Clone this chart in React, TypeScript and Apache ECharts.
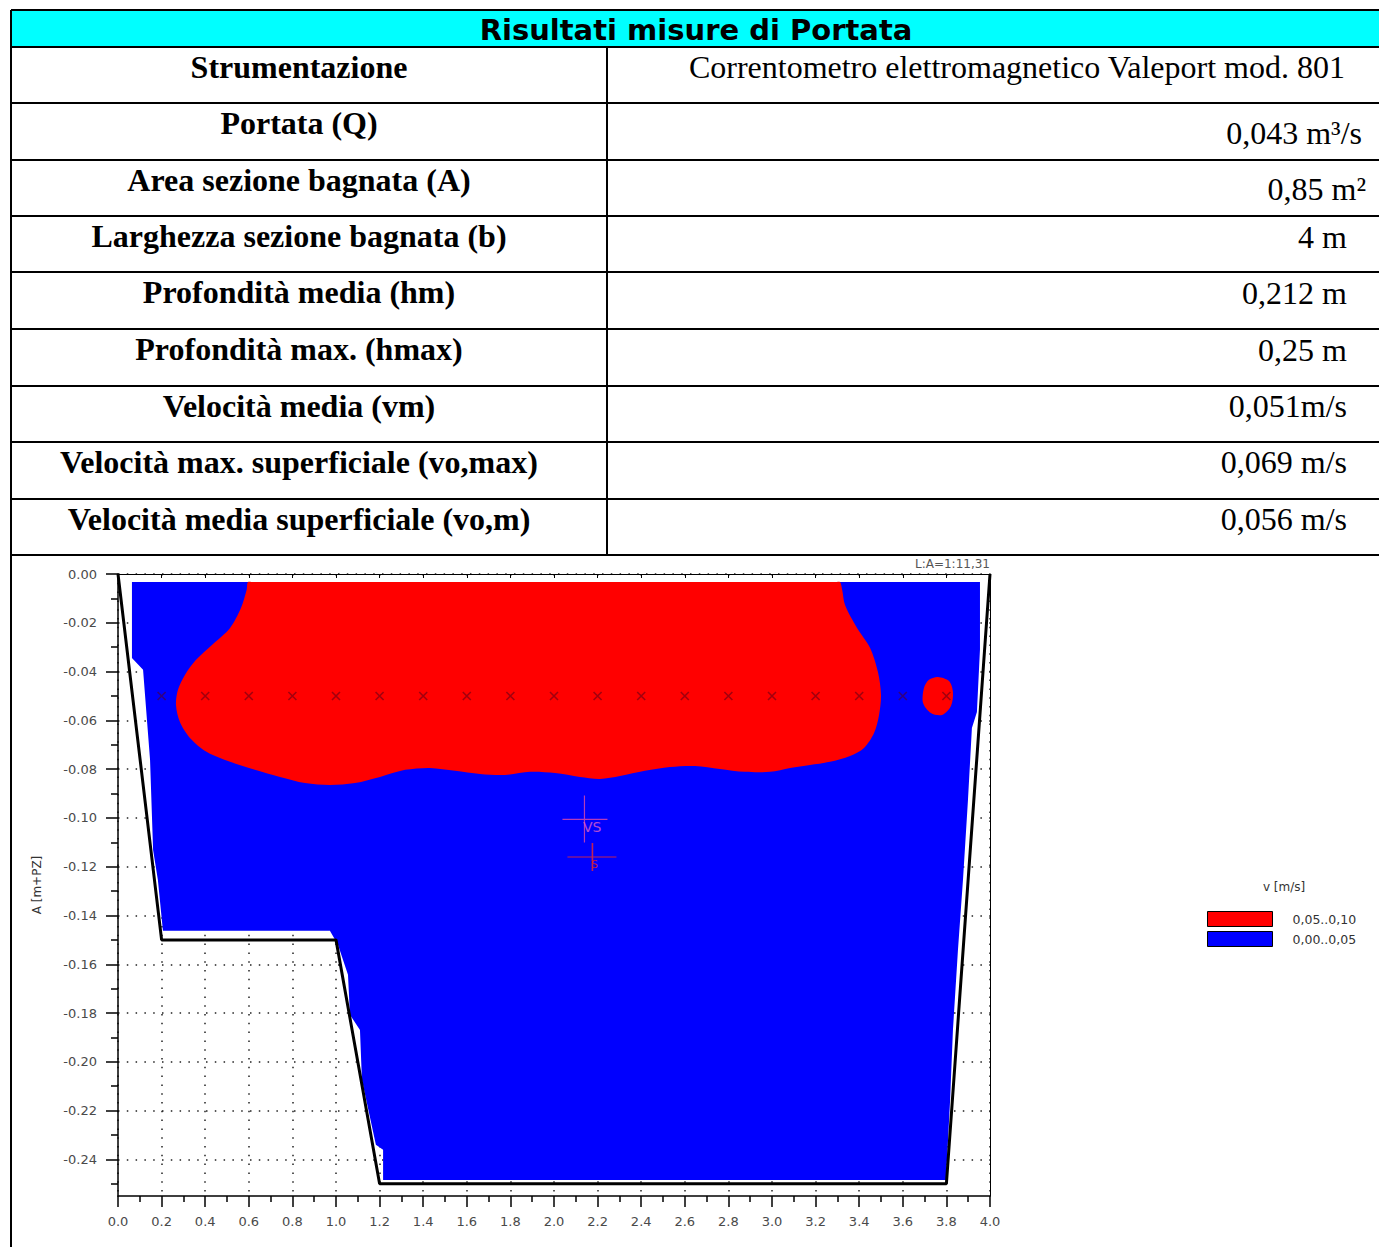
import React, { useEffect, useRef } from "react";
import * as echarts from "echarts";

// ---- Summary table ----
const TITLE = "Risultati misure di Portata";
const parameterNames = [
  "Strumentazione",
  "Portata (Q)",
  "Area sezione bagnata (A)",
  "Larghezza sezione bagnata (b)",
  "Profondità media (hm)",
  "Profondità max. (hmax)",
  "Velocità media (vm)",
  "Velocità max. superficiale (vo,max)",
  "Velocità media superficiale (vo,m)",
];
const parameterValues = [
  "Correntometro elettromagnetico Valeport mod. 801",
  "0,043 m³/s",
  "0,85 m²",
  "4 m",
  "0,212 m",
  "0,25 m",
  "0,051m/s",
  "0,069 m/s",
  "0,056 m/s",
];

// ---- Cross-section (distance [m], elevation [m+PZ]) ----
const bedProfile: [number, number][] = [
  [0.0, 0.0], [0.2, -0.15], [1.0, -0.15], [1.2, -0.25], [3.8, -0.25], [4.0, 0.0],
];

// wetted area, class 0,00..0,05 m/s
const slowZone: [number, number][] = [
  [0.064, -0.0033], [3.954, -0.0033], [3.954, -0.031], [3.94, -0.0566], [3.917, -0.0631],
  [3.899, -0.0926], [3.876, -0.1254], [3.853, -0.1541], [3.83, -0.1869], [3.817, -0.2156],
  [3.798, -0.2484], [1.216, -0.2484], [1.216, -0.236], [1.183, -0.234], [1.119, -0.2074],
  [1.11, -0.1869], [1.064, -0.1807], [1.055, -0.1643], [1.009, -0.152], [0.972, -0.1463],
  [0.206, -0.1463], [0.183, -0.1254], [0.161, -0.1131], [0.147, -0.0762], [0.115, -0.0393],
  [0.064, -0.0344],
];

// class 0,05..0,10 m/s: main core under the surface
const fastCore: [number, number][] = [
  [0.596, -0.0033], [0.62, -0.0033], [1.0, -0.0033], [1.5, -0.0033], [2.0, -0.0033],
  [2.5, -0.0033], [3.0, -0.0033], [3.29, -0.0033], [3.312, -0.0033],
  [3.322, -0.0066], [3.335, -0.0127], [3.39, -0.0221], [3.45, -0.0303],
  [3.486, -0.0402], [3.5, -0.0496], [3.491, -0.0578], [3.468, -0.0652], [3.422, -0.0713],
  [3.358, -0.0746], [3.266, -0.077], [3.174, -0.0783], [3.083, -0.0795], [2.991, -0.0811],
  [2.876, -0.0811], [2.761, -0.0799], [2.647, -0.0787], [2.532, -0.0791], [2.417, -0.0807],
  [2.303, -0.0828], [2.211, -0.084], [2.119, -0.0832], [2.005, -0.0816], [1.89, -0.0811],
  [1.775, -0.0824], [1.661, -0.082], [1.546, -0.0807], [1.431, -0.0795], [1.317, -0.0803],
  [1.202, -0.0832], [1.087, -0.0857], [0.972, -0.0865], [0.858, -0.0857], [0.743, -0.0832],
  [0.628, -0.0803], [0.514, -0.077], [0.408, -0.073], [0.33, -0.0672], [0.284, -0.0607],
  [0.266, -0.0537], [0.275, -0.0475], [0.307, -0.0414], [0.358, -0.0352], [0.431, -0.0291],
  [0.514, -0.0221], [0.564, -0.0139], [0.59, -0.0066],
];

// class 0,05..0,10 m/s: isolated spot near the right bank
const fastSpot: [number, number][] = [
  [3.761, -0.0422], [3.812, -0.0439], [3.83, -0.0484], [3.821, -0.0541], [3.78, -0.0578],
  [3.729, -0.057], [3.693, -0.0529], [3.697, -0.0467], [3.72, -0.0434],
];

// measurement verticals (x) and probe depth
const verticalsX = [0.2, 0.4, 0.6, 0.8, 1.0, 1.2, 1.4, 1.6, 1.8, 2.0, 2.2, 2.4, 2.6, 2.8, 3.0, 3.2, 3.4, 3.6, 3.8];
const probeDepth = -0.05;

// velocity centre (VS) and area centroid (S)
const velocityCentre: [number, number] = [2.142, -0.1004];
const areaCentroid: [number, number] = [2.174, -0.116];

const yTickValues = [0, -0.02, -0.04, -0.06, -0.08, -0.1, -0.12, -0.14, -0.16, -0.18, -0.2, -0.22, -0.24];
const yMinorTickValues = [-0.01, -0.03, -0.05, -0.07, -0.09, -0.11, -0.13, -0.15, -0.17, -0.19, -0.21, -0.23, -0.25];

const CLASS_HIGH = "0,05..0,10";
const CLASS_LOW = "0,00..0,05";
const RED = "#ff0000";
const BLUE = "#0000ff";

// ---- layout ----
const ROW_LINES = [10, 47, 103, 160, 216, 272, 329, 386, 442, 499, 555];
const RIGHT_TEXT_Y = [67, 133, 189, 237, 293, 350, 406, 462, 519];
const RIGHT_TEXT_X = [1345, 1362, 1366, 1347, 1347, 1347, 1347, 1347, 1347];
const SERIF = '"Liberation Serif", "Times New Roman", serif';
const SANS = '"DejaVu Sans", Verdana, sans-serif';
const AXIS_TEXT = "#4a4a4a";

function tableGraphics(): any[] {
  const els: any[] = [];
  els.push({ type: "rect", shape: { x: 11, y: 10, width: 1368, height: 37 }, style: { fill: "#00ffff" }, z: 0 });
  ROW_LINES.forEach((y) => {
    els.push({ type: "line", shape: { x1: 11, y1: y, x2: 1379, y2: y }, style: { stroke: "#000", lineWidth: 2 }, z: 1 });
  });
  els.push({ type: "line", shape: { x1: 11, y1: 10, x2: 11, y2: 1247 }, style: { stroke: "#000", lineWidth: 2 }, z: 1 });
  els.push({ type: "line", shape: { x1: 607, y1: 47, x2: 607, y2: 555 }, style: { stroke: "#000", lineWidth: 2 }, z: 1 });
  els.push({
    type: "text", x: 696, y: 30, z: 2,
    style: { text: TITLE, font: 'bold 29px "DejaVu Sans", Verdana, sans-serif', fill: "#000", textAlign: "center", align: "center", textVerticalAlign: "middle", verticalAlign: "middle" },
  });
  parameterNames.forEach((t, i) => {
    els.push({
      type: "text", x: 299, y: ROW_LINES[i + 1] + 20, z: 2,
      style: { text: t, font: `bold 32px ${SERIF}`, fill: "#000", textAlign: "center", align: "center", textVerticalAlign: "middle", verticalAlign: "middle" },
    });
  });
  parameterValues.forEach((t, i) => {
    els.push({
      type: "text", x: RIGHT_TEXT_X[i], y: RIGHT_TEXT_Y[i], z: 2,
      style: { text: t, font: `32px ${SERIF}`, fill: "#000", textAlign: "right", align: "right", textVerticalAlign: "middle", verticalAlign: "middle" },
    });
  });
  els.push({
    type: "text", x: 990, y: 564, z: 2,
    style: { text: "L:A=1:11,31", font: `12px ${SANS}`, fill: "#555", textAlign: "right", align: "right", textVerticalAlign: "middle", verticalAlign: "middle" },
  });
  els.push({
    type: "text", x: 1284, y: 887, z: 2,
    style: { text: "v [m/s]", font: `12px ${SANS}`, fill: "#333", textAlign: "center", align: "center", textVerticalAlign: "middle", verticalAlign: "middle" },
  });
  return els;
}

function zoneSeries(name: string, color: string, shapes: [number, number][][], smooth: number, z: number) {
  return {
    type: "custom",
    name,
    coordinateSystem: "cartesian2d",
    xAxisIndex: 0,
    yAxisIndex: 0,
    silent: true,
    z,
    itemStyle: { color },
    data: shapes.map((s) => s[0]),
    renderItem: (params: any, api: any) => {
      const pts = shapes[params.dataIndex].map((p) => api.coord(p));
      return { type: "polygon", shape: { points: pts, smooth }, style: { fill: color } };
    },
  };
}

const dotted = { color: "#222", width: 1.5, type: [1.5, 7.3] as number[] };

function buildOption(): any {
  return {
    animation: false,
    textStyle: { fontFamily: SANS },
    grid: { left: 118, top: 574, width: 872, height: 622, containLabel: false },
    legend: {
      data: [CLASS_HIGH, CLASS_LOW],
      orient: "vertical",
      left: 1207,
      top: 911,
      padding: 0,
      itemGap: 4,
      itemWidth: 65,
      itemHeight: 15,
      icon: "rect",
      selectedMode: false,
      itemStyle: { borderColor: "#000", borderWidth: 1 },
      textStyle: { fontSize: 12.5, color: "#333", fontFamily: SANS, padding: [0, 0, 0, 15] },
    },
    xAxis: [
      {
        type: "value", position: "bottom", min: 0, max: 4, interval: 0.2,
        axisLine: { show: true, onZero: false, lineStyle: { color: "#000", width: 1.5 } },
        axisTick: { show: true, inside: false, length: 11, lineStyle: { color: "#000", width: 1.5 } },
        minorTick: { show: true, splitNumber: 2, length: 6, lineStyle: { color: "#000", width: 1.5 } },
        axisLabel: { show: true, margin: 19, fontSize: 13, color: AXIS_TEXT, formatter: (v: number) => v.toFixed(1) },
        splitLine: { show: true, lineStyle: dotted },
      },
      {
        type: "value", position: "top", min: 0, max: 4, interval: 0.2,
        axisLine: { show: true, onZero: false, lineStyle: { color: "#000", width: 1 } },
        axisTick: { show: true, inside: true, length: 4, lineStyle: { color: "#000" } },
        axisLabel: { show: false },
        splitLine: { show: false },
      },
    ],
    yAxis: [
      {
        type: "value", position: "left", min: -0.255, max: 0,
        axisLine: { show: true, onZero: false, lineStyle: { color: "#000", width: 1.5 } },
        axisTick: { show: true, inside: false, length: 12, customValues: yTickValues, lineStyle: { color: "#000", width: 1.5 } },
        axisLabel: { show: true, customValues: yTickValues, margin: 21, fontSize: 13, color: AXIS_TEXT, formatter: (v: number) => v.toFixed(2) },
        splitLine: { show: true, lineStyle: dotted },
        name: "A [m+PZ]", nameLocation: "middle", nameRotate: 90, nameGap: 75,
        nameTextStyle: { fontSize: 12, color: "#333" },
      },
      {
        type: "value", position: "left", min: -0.255, max: 0,
        axisLine: { show: false, onZero: false },
        axisTick: { show: true, inside: false, length: 7, customValues: yMinorTickValues, lineStyle: { color: "#000", width: 1.5 } },
        axisLabel: { show: false },
        splitLine: { show: false },
      },
      {
        type: "value", position: "right", min: -0.255, max: 0,
        axisLine: { show: true, onZero: false, lineStyle: { color: "#000", width: 1 } },
        axisTick: { show: false },
        axisLabel: { show: false },
        splitLine: { show: false },
      },
    ],
    series: [
      zoneSeries(CLASS_LOW, BLUE, [slowZone], 0, 2),
      zoneSeries(CLASS_HIGH, RED, [fastCore, fastSpot], 0.3, 3),
      {
        type: "line", name: "bed", data: bedProfile, symbol: "none", silent: true, z: 5,
        lineStyle: { color: "#000", width: 3 },
      },
      {
        type: "scatter", name: "verticals", silent: true, z: 6,
        data: verticalsX.map((x) => [x, probeDepth]),
        symbol: "path://M0,0L10,10M10,0L0,10",
        symbolSize: 8,
        itemStyle: { color: "none", borderColor: "rgba(90,0,25,0.7)", borderWidth: 1.6 },
      },
      {
        type: "scatter", name: "VS", silent: true, z: 7,
        data: [velocityCentre],
        symbol: "path://M0,24L45,24M22,0L22,47",
        symbolSize: [45, 47],
        itemStyle: { color: "none", borderColor: "#e24aa8", borderWidth: 1.2 },
        label: { show: true, formatter: "VS", position: [23, 27], fontSize: 14, color: "#e060c8" },
      },
      {
        type: "scatter", name: "S", silent: true, z: 7,
        data: [areaCentroid],
        symbol: "path://M0,14L49,14M25,0L25,28",
        symbolSize: [49, 28],
        itemStyle: { color: "none", borderColor: "#f02a2a", borderWidth: 1.2 },
        label: { show: true, formatter: "S", position: [27, 18], fontSize: 11, color: "#e82020" },
      },
    ],
    graphic: tableGraphics(),
  };
}

export default function App() {
  const ref = useRef<HTMLDivElement>(null);
  useEffect(() => {
    const chart = echarts.init(ref.current!, null, { renderer: "svg" });
    chart.setOption(buildOption());
    return () => chart.dispose();
  }, []);
  return (
    <div
      ref={ref}
      style={{ position: "fixed", left: 0, top: 0, width: 1379, height: 1247, background: "#fff" }}
    />
  );
}
